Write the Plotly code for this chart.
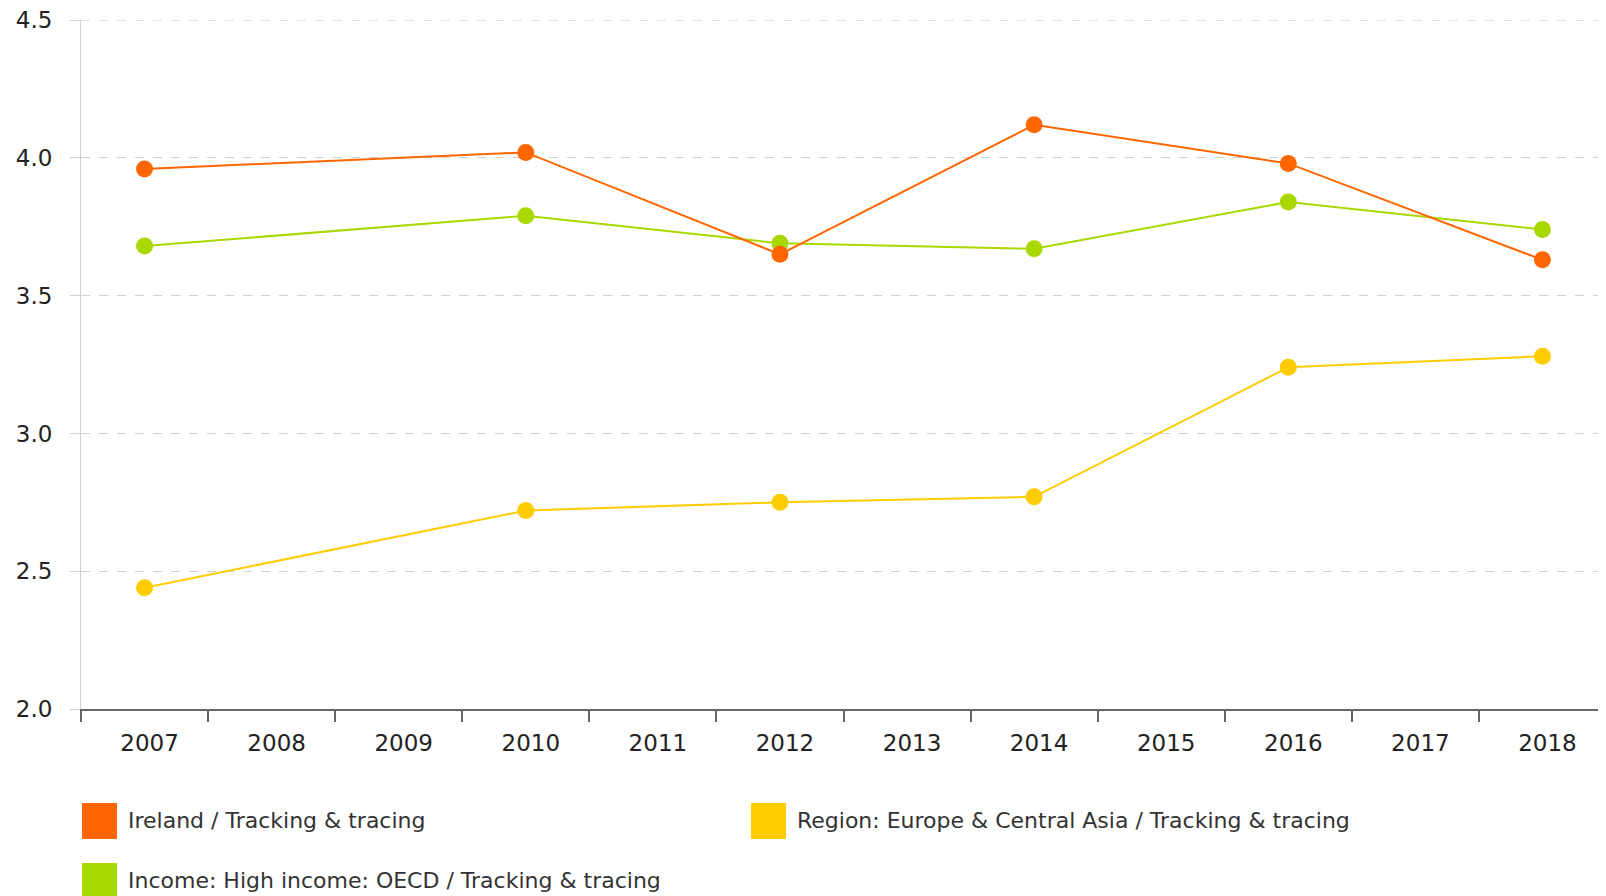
import plotly.graph_objects as go

years = ["2007", "2008", "2009", "2010", "2011", "2012", "2013", "2014", "2015", "2016", "2017", "2018"]
obs_years = ["2007", "2010", "2012", "2014", "2016", "2018"]

series_names = [
    "Ireland / Tracking & tracing",
    "Region: Europe & Central Asia / Tracking & tracing",
    "Income: High income: OECD / Tracking & tracing",
]
ireland = [3.96, 4.02, 3.65, 4.12, 3.98, 3.63]
europe = [2.44, 2.72, 2.75, 2.77, 3.24, 3.28]
oecd = [3.68, 3.79, 3.69, 3.67, 3.84, 3.74]
colors = ["#FF6600", "#FFCC00", "#A8D800"]

y_ticks = [2.0, 2.5, 3.0, 3.5, 4.0, 4.5]
y_ticktext = ["2.0", "2.5", "3.0", "3.5", "4.0", "4.5"]

FONT = "DejaVu Sans"

# page geometry (page has an 8px body margin)
OFF = 8
PL, PR, PT, PB = 81, 1606, 19.5, 709
W, H = 1606 - OFF, 896 - OFF


def px(X):
    return (X - PL) / (PR - PL)


def py(Y):
    return (PB - Y) / (PB - PT)


fig = go.Figure()
for name, vals, col in [(series_names[2], oecd, colors[2]),
                        (series_names[1], europe, colors[1]),
                        (series_names[0], ireland, colors[0])]:
    fig.add_trace(go.Scatter(
        x=obs_years, y=vals, name=name, mode="lines+markers",
        line=dict(color=col, width=2),
        marker=dict(color=col, size=17),
        showlegend=False,
    ))

# top gridline (plotly skips the grid line at the range edge)
fig.add_shape(type="line", xref="paper", yref="y", layer="below",
              x0=0, x1=1, y0=y_ticks[-1], y1=y_ticks[-1],
              line=dict(color="#d0d0d0", width=1, dash="dash"))

# custom legend (page coords: square left x, row center y)
legend_pos = [(82, 821), (751, 821), (82, 881)]
for (lx, ly), name, col in zip(legend_pos, series_names, colors):
    fig.add_shape(type="rect", xref="paper", yref="paper",
                  x0=px(lx), x1=px(lx + 35),
                  y0=py(ly + 18), y1=py(ly - 18),
                  fillcolor=col, line=dict(width=0))
    fig.add_annotation(xref="paper", yref="paper",
                       x=px(lx + 44), y=py(ly),
                       text=name, showarrow=False, xanchor="left", yanchor="middle",
                       font=dict(family=FONT, size=22, color="#333333"))

fig.update_layout(
    width=W, height=H,
    margin=dict(l=PL - OFF, r=0, t=PT - OFF, b=H - (PB - OFF), pad=0),
    paper_bgcolor="white", plot_bgcolor="white",
    font=dict(family=FONT, size=22, color="#333333"),
    xaxis=dict(
        type="category", categoryorder="array", categoryarray=years,
        range=[-0.5, 11.5], showgrid=False,
        showline=True, linecolor="#666666", linewidth=2,
        ticks="outside", ticklen=11, tickcolor="#666666", tickwidth=1.5,
        tickson="boundaries", tickfont=dict(size=23, color="#222222"),
        ticklabelstandoff=12, ticklabelshift=5,
        fixedrange=True,
    ),
    yaxis=dict(
        range=[2.0, 4.5005], tickvals=y_ticks, ticktext=y_ticktext,
        showgrid=True, gridcolor="#d0d0d0", griddash="dash", gridwidth=1,
        showline=True, linecolor="#d0d0d0", linewidth=1,
        ticks="outside", ticklen=10, tickcolor="#d0d0d0",
        tickfont=dict(size=23, color="#222222"),
        ticklabelstandoff=13, ticklabeloverflow="allow",
        zeroline=False, fixedrange=True,
    ),
)

fig.write_html("out.html")
